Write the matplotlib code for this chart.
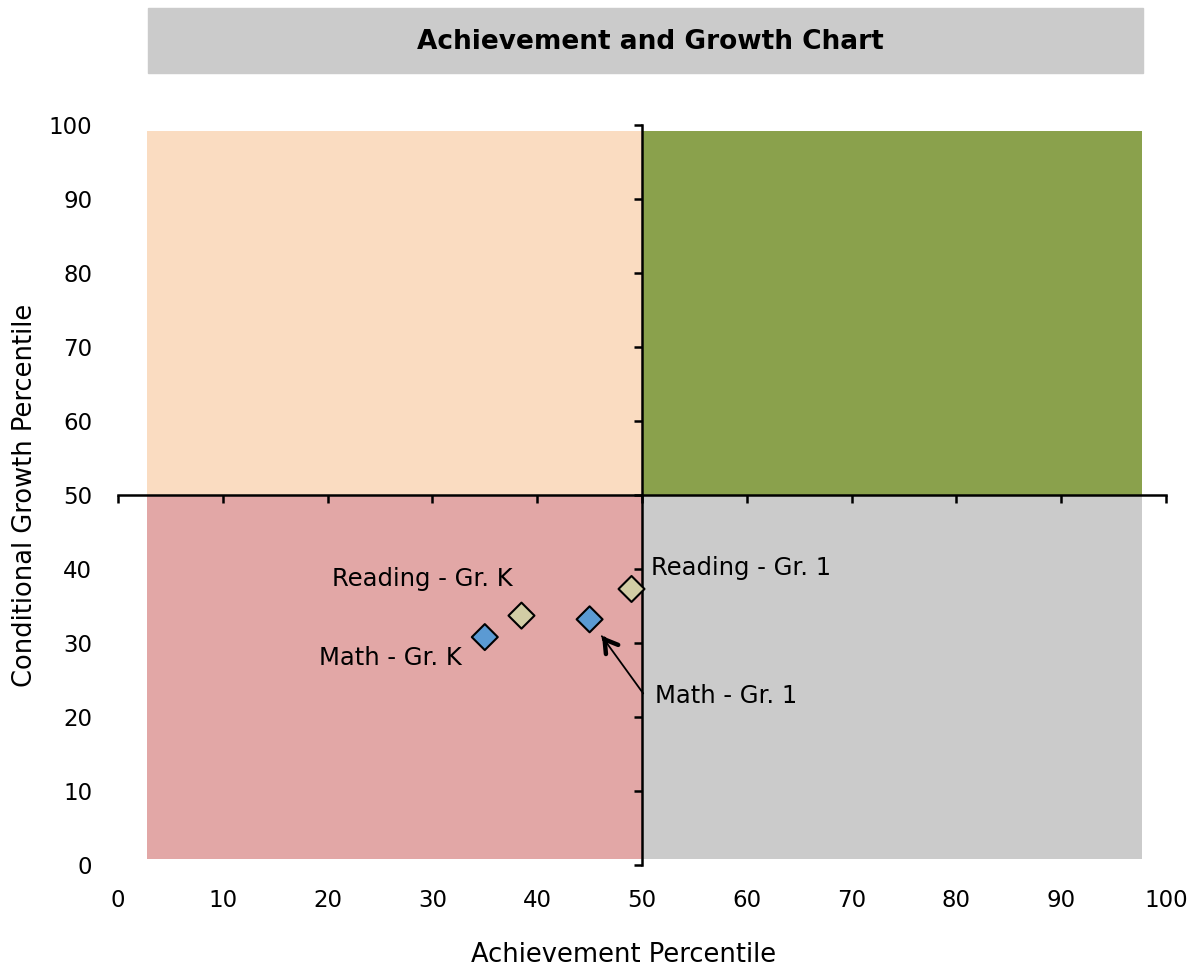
import matplotlib
matplotlib.use('Agg')
import matplotlib.pyplot as plt
from matplotlib.patches import Rectangle
import numpy as np

plt.rcParams['font.family'] = ['DejaVu Sans']

# quadrant bands (x edges, y edges) and their fills
quad_x = [2.75, 50, 97.7]
quad_y = [0.8, 50, 99.2]
quad_colors = [['#E2A7A6', '#CBCBCB'],   # low growth: low / high achievement
               ['#FADCC1', '#8AA14C']]   # high growth: low / high achievement

# student scores
labels = ['Math - Gr. K', 'Reading - Gr. K', 'Math - Gr. 1', 'Reading - Gr. 1']
achievement = [35.0, 38.5, 45.0, 49.0]
growth = [30.8, 33.7, 33.2, 37.3]
colors = ['#5B9AD3', '#D2CDA5', '#5B9AD3', '#D2CDA5']

# label text positions
label_x = [32.8, 37.7, 51.2, 50.9]
label_y = [28.0, 38.6, 22.8, 40.1]
label_ha = ['right', 'right', 'left', 'left']

ticks = np.arange(0, 101, 10)

fig = plt.figure(figsize=(11.9, 9.69), dpi=100)
rect = [118 / 1190, 1 - 865 / 969, (1166 - 118) / 1190, (865 - 125) / 969]

# axis carrying the tick labels at the outer edges
lab_ax = fig.add_axes(rect)
lab_ax.set_xlim(0, 100)
lab_ax.set_ylim(0, 100)
for s in lab_ax.spines.values():
    s.set_visible(False)
lab_ax.set_xticks(ticks)
lab_ax.set_yticks(ticks)
lab_ax.tick_params(length=0, labelsize=16.5)
lab_ax.tick_params(axis='x', pad=17)
lab_ax.tick_params(axis='y', pad=18.5)
lab_ax.set_xlabel('Achievement Percentile', fontsize=18.5, va='center')
lab_ax.set_ylabel('Conditional Growth Percentile', fontsize=18.5, va='center')
lab_ax.xaxis.set_label_coords(0.482, -0.1216)
lab_ax.yaxis.set_label_coords(-0.089, 0.5)

# main axis with the crossing spines at 50/50
ax = fig.add_axes(rect)
ax.patch.set_visible(False)
ax.set_xlim(0, 100)
ax.set_ylim(0, 100)
ax.spines['top'].set_visible(False)
ax.spines['right'].set_visible(False)
ax.spines['left'].set_position(('data', 50))
ax.spines['bottom'].set_position(('data', 50))
ax.spines['left'].set_linewidth(1.8)
ax.spines['bottom'].set_linewidth(1.8)
ax.spines['left'].set_zorder(5)
ax.spines['bottom'].set_zorder(5)
ax.set_xticks(ticks)
ax.set_yticks(ticks)
ax.tick_params(direction='out', length=6, width=1.8, labelbottom=False, labelleft=False)

for i in range(2):
    for j in range(2):
        ax.add_patch(Rectangle((quad_x[j], quad_y[i]), quad_x[j + 1] - quad_x[j],
                               quad_y[i + 1] - quad_y[i], color=quad_colors[i][j],
                               lw=0, zorder=1))

ax.scatter(achievement, growth, marker='D', s=175, c=colors, edgecolors='black',
           linewidths=1.5, zorder=6)

for k in range(len(labels)):
    if labels[k] == 'Math - Gr. 1':
        continue
    ax.text(label_x[k], label_y[k], labels[k], ha=label_ha[k], va='center',
            fontsize=17.5, zorder=7)

# callout for Math - Gr. 1 with a thin shaft and a heavy head
k = labels.index('Math - Gr. 1')
ax.annotate(labels[k], xy=(achievement[k], growth[k]), xytext=(label_x[k], label_y[k]),
            ha='left', va='center', fontsize=17.5, zorder=7,
            arrowprops=dict(arrowstyle='-', lw=1.3, color='black', relpos=(-0.08, 0.62),
                            shrinkA=0, shrinkB=15))
p0 = ax.transData.transform((achievement[k], growth[k]))
p1 = ax.transData.transform((label_x[k] - 1.2, label_y[k] + 0.9))
d = (p1 - p0) / np.hypot(*(p1 - p0)) * 25 * 0.72
ax.annotate('', xy=(achievement[k], growth[k]), xytext=(d[0], d[1]),
            textcoords='offset points', zorder=7,
            arrowprops=dict(arrowstyle='->,head_length=0.9,head_width=0.55', lw=3.2,
                            color='black', shrinkA=0, shrinkB=15))

# title banner
fig.patches.append(Rectangle((148 / 1190, 1 - 73 / 969), (1143 - 148) / 1190, 65 / 969,
                             transform=fig.transFigure, color='#CBCBCB', zorder=0))
fig.text(650 / 1190, 1 - 42 / 969, 'Achievement and Growth Chart', ha='center', va='center',
         fontsize=19, fontweight='bold')

fig.savefig('out.png', dpi=100)
